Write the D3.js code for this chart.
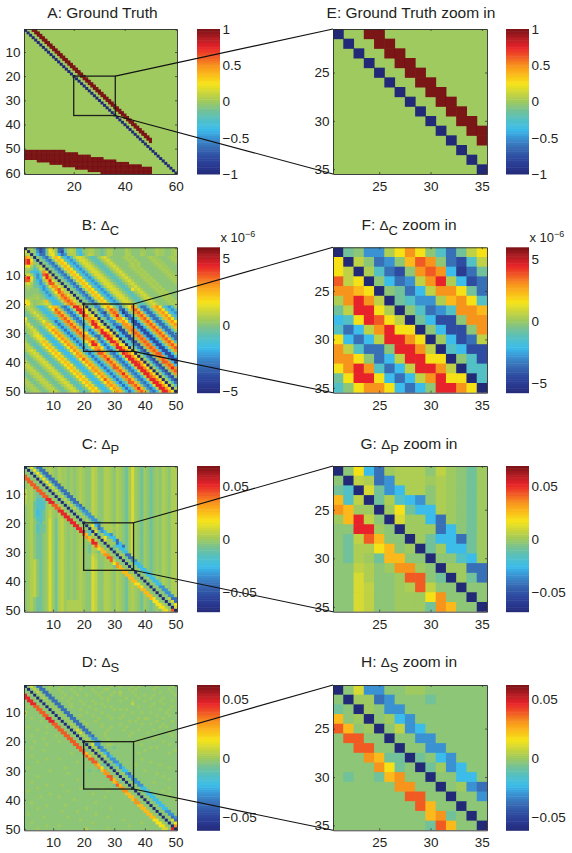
<!DOCTYPE html>
<html><head><meta charset="utf-8">
<script src="https://cdnjs.cloudflare.com/ajax/libs/d3/7.8.5/d3.min.js"></script>
<style>
html,body{margin:0;padding:0;background:#fff}
text{font-family:"Liberation Sans",Arial,sans-serif;fill:#231f20}
svg{display:block}
</style></head><body>
<svg id="c" width="572" height="853"></svg>
<script>
// colour levels (position on the colormap, -1 = bottom, +1 = top)
const levelCodes = "0123456789abcdefghij";
const levelValues = [-1,-.88,-.76,-.62,-.5,-.38,-.25,-.13,-.05,0,.04,.09,.16,.26,.38,.5,.62,.75,.88,1];
// colormap
const mapStops = [0,.06,.125,.19,.25,.31,.375,.44,.5,.56,.625,.69,.75,.81,.875,.94,1];
const mapColors = ["#232a78","#2a3a92","#2e4fa3","#396fb7","#3a92d3","#3bbcea","#52c0c6","#74c196","#9fca5f","#c9d53b","#f6e419","#fbb91a","#f7941d","#f15a24","#e8232a","#b01c22","#7a1215"];

// A: ground truth
const truthDiagonal = [1,2,3,4,5,6,7,8,9,10,11,12,13,14,15,16,17,18,19,20,21,22,23,24,25,26,27,28,29,30,31,32,33,34,35,36,37,38,39,40,41,42,43,44,45,46,47,48,49,50,51,52,53,54,55,56,57,58,59,60];
const truthBandFirstCol = [4,5,6,7,8,9,10,11,12,13,14,15,16,17,18,19,20,21,22,23,24,25,26,27,28,29,30,31,32,33,34,35,36,37,38,39,40,41,42,43,44,45,46,47,48,49,50];
const truthBandLastCol = [5,6,7,8,9,10,11,12,13,14,15,16,17,18,19,20,21,22,23,24,25,26,27,28,29,30,31,32,33,34,35,36,37,38,39,40,41,42,43,44,45,46,47,48,49,50,50];
// block: firstCol,lastCol,firstRow,lastRow
const truthBlock = [[1,5,51,54],[6,10,51,55],[11,15,51,56],[16,16,51,57],[17,20,52,57],[21,21,52,58],[22,25,53,58],[26,26,53,59],[27,30,54,59],[31,31,54,60],[32,36,55,60],[37,41,56,60],[42,46,57,60],[47,50,58,60]];

// B: Delta C, one string per row, one level code per column
const deltaC = [
"09a73238db 8337aba668 9aa8878a98 888a988899 888a99889a",
"c0984237dc 8326aba658 9aa8878aa8 888a988899 889a99889a",
"ab085337cd 95349aa757 9ba8878aa8 888aa888a9 888a99889a",
"fea087437c ed7546accb 87679bca88 889a9a8888 9a998889a9",
"ghd7087437 ced7546acc b87679bca8 8889a9a888 89a998889a",
"ghe9808743 7ced7546ac cb87679bca 88889a9a88 889a998889",
"cda7aa0874 37ced7546a ccb87679bc a8889a9a88 8889a99888",
"9a867ca087 437ced7546 accb87679b ca8889a9a8 88889a9988",
"986558fc08 7437ced754 6accb87679 bca8889a9a 888889a998",
"bca646ghb0 87437ced75 46accb8767 9bca8889a9 a888889a99",
"ghd745chf9 087437ced7 546accb876 79bca8889a 9a888889a9",
"ggc7549ehc 9087437ced 7546accb87 679bca8889 a9a888889a",
"bca7646bgg c9087437ce d7546accb8 7679bca888 9a9a888889",
"9a977547cf fca087437c ed7546accb 87679bca88 89a9a88888",
"898886458c fgca087437 ced7546acc b8767dbca8 889a9a8888",
"8888876469 dgfba08743 7ced7546ac cb87679bca 8889a9a888",
"8889987547 aegfca0874 37ced7546a ccb87679bc a8889a9a88",
"9999a88655 7bfgfca087 437ced7546 accb87679b ca8889a9a8",
"dc9899be75 57bfgfca08 7437ced754 6accb87679 bca8889a9a",
"dda89abca6 557bfgfba0 87437ced75 46accb8767 9bca8889a9",
"aba86568de e8435bhhfd 07844adfd8637bd ge6336aefd75469",
"8aba86568d ge8435bhhf d0b8348egf8326b fge6336aefd7546",
"78aca86568 fge8435bhh db0a6328fgf5137 afge6336aefd754",
"778aca8656 8fge8435bh gbd08534bfha523 5afge6336aefd75",
"d778aca865 58fge8435b ffed08735bffd73 25afge6336aefd7",
"c8778ada86 358fge8435 afhfb07644aefd6 225afge6336aefd",
"ac8778bec8 5358fge843 7bhhda086346ffe 5225afge6336aef",
"8bc8768ced 95358fge84 56dhgdb075228ff f5225afge6336ae",
"89bc8668df e95358fge8 635bfhdd085228f gf5225afge6336a",
"79acc7668d fe95358fge d535bhhfd09523b fgf5225afge6336",
"779cdc7558 dfe95358fg fb6338hhfb06522 8fgf5225afge633",
"8779cdc755 8dfe95358f ffd835bhhdd0862 28fgf5225afge63",
"a7779cec75 58dfe95358 dfhf635bhhfb066 328fgf5225afge6",
"ba7679dec7 558dfe9535 7dhhd535bfhdd06 6328fgf5225afge",
"aba7679dec 7558dfe953 68dffd5358hhfd0 a6328fgf5225afg",
"9bcb7679dec7558dfe95358fge8435bhhfd0a6328fgf5225af",
"79bcb7679ded7558dfe95358gge8435bhgfd0a6328fgg5225a",
"779bcb7679dec7558efe95358fge8435bhhfd0a6328fgf5225",
"8779bcb7679dec7558dge95358fhe8435chhfd0a6328fgf522",
"b8779bcb7679dec7558dfe95358fge8435bhhge0a6328ggf52",
"bb8779bcb7679ded7558dfe95358fge8435bhhfd0a6328fgf5",
"abb8779bcb7679dec7558dfe95358gge8435bhhfd0a6328fhf",
"8abb8779bcb7679dec7558efe95358fge8435chhfd0a6328fg",
"78abb8779bcb7679dec7558dfe95358fhe8435bhhfd0a6328f",
"878abb8779bcb7679ded7558dfe95358fge8435bhgfd0a6328",
"a878abb8779bcb7679dec7558dge95358fge8435bhhfd0a632",
"aa878abb8779bcb7679dec7558dfe95358gge8435bhhfd0a63",
"9aa878abb8779bcb7679dec7558efe95358fge8435chhfd0a6",
"89aa878abb8779bcb7679ded7558dfe95358fhe8435bhhfd0a",
"889aa878abb8779bcb7679dec7558dfe95358fge8435bhhfd0"
];

// C: Delta P
const deltaP = [
"08d73389a9 8a998989a9 88ba88aa98 a9879c9879 87898a98aa",
"808d7339a9 8a998989a9 88ba88aa98 a9879c9879 87898a98aa",
"8808d733a9 8a998989a9 88ba88aa98 a9879c9879 87898a98aa",
"g8808d7339 8a998989a9 88ba88aa98 a9879c9879 87898a98aa",
"gg8808d733 8a998989a9 88ba88aa98 a9879c9879 87898a98aa",
"8gg8808d73 3a998989a9 88ba88aa98 a9879c9879 87898a98aa",
"89gg8808d7 33998989a9 88ba88aa98 a9879c9879 87898a98aa",
"89agg8808c 73398989a9 88ba88aa98 a9879c9879 87898a98aa",
"b9a8gg8808 c7338989a9 88ba88aa98 a9879c9879 87898a98aa",
"b9a87gg880 8b733989a9 88ba88aa98 a9879c9879 87898a98aa",
"b9a877gg88 08b73389a9 88ba88aa98 a9879c9879 87898a98aa",
"a9a8667hh9 808b7339a9 88ba88aa98 a9879c9879 87898a98aa",
"a9a76668hh 8808b733a9 88ba88aa98 a9879c9879 87898a98aa",
"99a76669ag ga808b7439 88ba88aa98 a9879c9879 87898a98aa",
"89a76669a9 gga808b743 88ba88aa98 a9879c9879 87898a98aa",
"89a75679b9 8hh9808a74 48ba88aa98 a9879c9879 87898a98aa",
"89a75679b9 8ahh9808a7 44ba88aa98 a9879c9879 87898a98aa",
"89a76679b9 8a9hh9808a 744a88aa98 a9879c9879 87898a98aa",
"89a86679c9 7ab9hh9808 a74488aa98 a9879c9879 87898a98aa",
"89a87689c9 7ab98hh980 8a7448aa98 a9879c9879 87898a98aa",
"89a86779c9 7ab989hh98 08d539aaa8b9879 c987987898a98aa",
"89a86779c9 7ab9898hh9 80ba34aaa9a9879 c987987898a98aa",
"89a86779c9 7ab98989hh 760c745aa8a9879 c987987898a98aa",
"89a87789c9 7ab98989ag e6b07a6548a9879 c987987898a98aa",
"89a87789c9 7ab98989a9 fe9909d755a9879 c987987898a98aa",
"89a87789c9 7ab98989a9 9ehb80c99539879 c987987898a98aa",
"89a87789c9 7ab98989a9 88hh98099935879 c987987898a98aa",
"89a87789c9 7ab98989a9 87bge8809755379 c987987898a98aa",
"89a87789c9 7ab98989a9 87aade890795579 c987987898a98aa",
"89a87789c9 7ab98989a9 87a97ee88088659 c987987898a98aa",
"89a87789c9 7ab98989a9 88ba89ff9809933 c987987898a98aa",
"89a87789c9 7ab98989a9 88ca889gg870973 3987987898a98aa",
"89ab8789c9 7ab98989a9 88cb889agb88088 4487987898a98aa",
"89ab8789c9 7ab98989a9 88cb88999df8808 8557987898a98aa",
"89ab8789c9 7ab98989a9 88cb889997fe880 8855987898a98aa",
"89ab8789c9 7ab98989a9 88cb88aa98 aee8908855 87898a98aa",
"89ab8789c9 7ab98989a9 88cb88aa98 a9ee890885 57898a98aa",
"89ab8789c9 7ab98989a9 88cb88aa98 a98eea8088 55898a98aa",
"89ab8789c9 7ab98989a9 88cb88aa98 a987ee8808 95598a98aa",
"89ab8789c9 7ab98989a9 88cb88aa98 a9879ee880 88558a98aa",
"89ab8789c9 7ab98989a9 88cb88aa98 a9879add88 08855a98aa",
"89ab8789c9 7ab98989a9 88cb88aa98 a9879a9ed8 80884498aa",
"89ab8789c9 7ab98989a9 88cb88aa98 a9879a98ee 88088448aa",
"89ab8789c9 7ab98989a9 88cb88aa98 a9879a987e e8808844aa",
"89ab8789c9 7ab98989a9 88cb88aa98 a9879a9879 ee8808844a",
"89a87789c9 7ab98989a9 88cb88aa98 a9879a9879 8ed8808b33",
"89a87789c9 7ab9aaaaa9 88cb88aa98 a9879a9879 87dd8808c3",
"89a87789c9 7ab9aaaaa9 88cb88aa98 a9879a9879 878dda808d",
"89a87789c9 7ab9aaaaa9 88cb88aa98 a9879a9879 8789dda80c",
"89a87789c9 7ab9aaaaa9 88cb88aa98 a9879a9879 87898cd9g0"
];

// D: Delta S
const deltaS = [
"08c8338898 8898889888 8888988898 8988898988 8889888898",
"808b833898 8988898898 8898889988 8888989888 8898888988",
"8808b83388 8898889888 8889898889 8a88898888 8888988898",
"h8808a8338 8889888988 9888988898 8988889889 8898888889",
"hh8808a833 8898898888 8888898988 8889888988 8988898888",
"8hh8808983 3888988898 8898888988 8988898889 8888988898",
"88hh880898 3388898889 8889898888 88888b8888 8898898888",
"898gg88089 8338898888 8988889898 8888888988 8988888898",
"8888gg8808 9833888898 8889888889 8989888888 8888988988",
"b8888gg880 8983388888 9888898888 8888898898 8988889888",
"988888gg88 0898338898 8898888988 8898888888 8889888988",
"8898888hh8 8089833888 8888988898 8988888989 9888898888",
"88888988hh 8808983389 8889888888 8888989888 8889888898",
"888888888g g8808a8338 9888898888 8988888898 8988898888",
"8988888988 gg8808a833 8888898898 8889888888 8888989888",
"8888988888 8gg8808c83 3888888988 8898888988 8898888898",
"8888888988 88gg8808c8 3388889888 8888898888 9888888988",
"8898888888 988gg8808a 8438889888 8888988888 8889888898",
"8888889888 8888gg8808 a844888988 8888888898 8898888888",
"8889888888 89888gg880 8984488888 8988889888 8888898888",
"8888888988 888888gg88 08c448899888888 888988888888988",
"8898888888 8888888gg8 809934888788888 888888989888888",
"8888889888 88888888gg 780984488888888 888898888888889",
"8888888888 888889888g e89089548888888 889888888888988",
"8898888888 8888888888 ge8908b45888888 888888888888888",
"8888888988 8988888888 8gg880884488888 888988888888888",
"8888988888 8888888988 88gg88088448888 888888988888888",
"8888888888 8888888888 888fe7707854888 898888888988888",
"8988888888 8889888888 8888fd780794588 888888888888988",
"8888888898 8888888888 87887ef88088558 888898888888888",
"8888888888 8888988888 888888ff8808943 888888889888888",
"8888988888 8888888888 8888888gg880884 488888888898888",
"8888888888 8888888988 88888888ge88088 448888888888988",
"8898888888 8888888888 888888888ef7808 844888898888888",
"8888888988 8898888888 8888888887ge880 884488888888888",
"8888988888 8888888898 8888898888 8ff8808855 8888888988",
"8988888888 8888988888 8888888988 88ff880885 5888898888",
"8888888898 8888888888 8898888888 888ee88088 5588888988",
"8888898888 8988888888 8888889888 8888ee8808 8558888888",
"8888888888 8888889888 8888888888 88888ef880 8855888889",
"8898888888 8888888888 8889888888 888888ff88 0885588888",
"8888888988 8889888888 8888888888 8888888ee8 8088558888",
"8888988888 8888888888 9888888898 88888888ee 8808855888",
"8888888888 8898888988 8888888888 888888888e e880884488",
"8988888888 8888888888 8889888888 8888888888 ee88088448",
"8888889888 8888988888 8888888988 8888888888 8ee8808934",
"8888888888 8888888898 8888888888 8898888888 88dd8808c3",
"8898888888 8888888888 8898888888 8888888898 888dd9808d",
"8888888988 8988888888 8888888888 8888988888 8888dd980f",
"8888988888 8888888888 a888888988 8888888888 88888cc8h0"
];

// tick labels and colour-bar ranges
const overviewTicks60 = [20,40,60];
const overviewRowTicks60 = [10,20,30,40,50,60];
const overviewTicks50 = [10,20,30,40,50];
const zoomTicks = [25,30,35];
const barTicksA = [-1,-.5,0,.5,1];
const barTicksC = [-5,0,5];
const barTicksP = [-.05,0,.05];
const rangeA = [-1,1];
const rangeBarB = [-5.1,5.85];
const rangeBarF = [-5.76,5.92];
const rangeP = [-.0682,.0686];
const rangeS = [-.0612,.0623];
const zoomWindow = [20,36.3];

const svg = d3.select("#c");
const defs = svg.append("defs");
[["softWide",0.42],["softNarrow",0.6]].forEach(([id,dev])=>{
  defs.append("filter").attr("id",id)
    .attr("x","-5%").attr("y","-5%").attr("width","110%").attr("height","110%")
    .append("feGaussianBlur").attr("stdDeviation",dev);
});

const L0 = 24, L1 = 177, Z0 = 333, Z1 = 487, BL0 = 197, BL1 = 220, BR0 = 506, BR1 = 529;
const INK = "#2a2a2a";
const TICK_FONT = 13.5;

function toCells(rows){
  const cells = [];
  rows.forEach((r,i)=>{
    r.replace(/ /g,"").split("").forEach((ch,j)=>{
      cells.push({row:i+1,col:j+1,pos:levelValues[levelCodes.indexOf(ch)]});
    });
  });
  return cells;
}
function truthCells(){
  const out = [];
  truthDiagonal.forEach(d=>out.push({row:d,col:d,pos:-1}));
  truthBandFirstCol.forEach((f,i)=>{
    for(let c=f;c<=truthBandLastCol[i];c++) out.push({row:i+1,col:c,pos:1});
  });
  truthBlock.forEach(([c0,c1,r0,r1])=>{
    for(let c=c0;c<=c1;c++) for(let r=r0;r<=r1;r++) out.push({row:r,col:c,pos:1});
  });
  return out;
}
function colorFor(range){
  const [lo,hi] = range;
  return d3.scaleLinear().domain(mapStops.map(t=>lo+t*(hi-lo))).range(mapColors).clamp(true);
}
let clipId = 0;
function heatPanel(o){
  const g = svg.append("g");
  const x = d3.scaleLinear().domain(o.domain).range([o.x0,o.x1]);
  const y = d3.scaleLinear().domain(o.domain).range([o.y0,o.y1]);
  const color = colorFor(o.range);
  const toValue = d3.scaleLinear().domain([-1,1]).range(o.range);
  const id = "clip"+(clipId++);
  defs.append("clipPath").attr("id",id).append("rect")
    .attr("x",o.x0).attr("y",o.y0).attr("width",o.x1-o.x0).attr("height",o.y1-o.y0);
  const clip = g.append("g").attr("clip-path",`url(#${id})`);
  const art = clip.append("g").attr("filter",`url(#${o.blur})`);
  art.append("rect").attr("x",o.x0-3).attr("y",o.y0-3).attr("width",o.x1-o.x0+6).attr("height",o.y1-o.y0+6)
    .attr("fill",color(toValue(o.base)));
  const cells = o.cells.filter(c=>c.col>o.domain[0]&&c.col<o.domain[1]&&c.row>o.domain[0]&&c.row<o.domain[1]);
  art.selectAll("rect.cell").data(cells).join("rect").attr("class","cell")
    .attr("x",c=>x(c.col-.5)).attr("y",c=>y(c.row-.5))
    .attr("width",c=>x(c.col+.5)-x(c.col-.5)+.5)
    .attr("height",c=>y(c.row+.5)-y(c.row-.5)+.5)
    .attr("fill",c=>color(toValue(c.pos)));
  const style = s=>{
    s.selectAll("path").attr("stroke",INK).attr("stroke-width",.9);
    s.selectAll("line").attr("stroke",INK).attr("stroke-width",.7);
    s.selectAll("text").attr("font-size",TICK_FONT).attr("font-family",'"Liberation Sans",Arial,sans-serif').attr("fill","#231f20");
  };
  g.append("g").attr("transform",`translate(0,${o.y1})`)
    .call(d3.axisBottom(x).tickValues(o.xTicks).tickSizeInner(-2).tickSizeOuter(0).tickPadding(7.6)).call(style);
  g.append("g").attr("transform",`translate(${o.x0},0)`)
    .call(d3.axisLeft(y).tickValues(o.yTicks).tickSizeInner(-2).tickSizeOuter(0).tickPadding(3.5)).call(style);
  g.append("g").attr("transform",`translate(0,${o.y0})`)
    .call(d3.axisTop(x).tickValues(o.xTicks).tickFormat("").tickSizeInner(-2).tickSizeOuter(0)).call(style);
  g.append("g").attr("transform",`translate(${o.x1},0)`)
    .call(d3.axisRight(y).tickValues(o.yTicks).tickFormat("").tickSizeInner(-2).tickSizeOuter(0)).call(style);
  return {x,y};
}
function colorBar(o){
  const g = svg.append("g");
  const y = d3.scaleLinear().domain(o.range).range([o.y1,o.y0]);
  const color = colorFor(o.range);
  const steps = d3.range(64).map(i=>o.range[0]+(i+.5)/64*(o.range[1]-o.range[0]));
  const h = (o.y1-o.y0)/64;
  g.append("g").selectAll("rect").data(steps).join("rect")
    .attr("x",o.x0).attr("width",o.x1-o.x0)
    .attr("y",v=>y(v)-h/2).attr("height",h+.5).attr("fill",v=>color(v));
  const ax = g.append("g").attr("transform",`translate(${o.x1},0)`)
    .call(d3.axisRight(y).tickValues(o.ticks).tickFormat(v=>(v<0?"\u2212":"")+String(Math.abs(v))).tickSizeInner(0).tickSizeOuter(0).tickPadding(2.5));
  ax.select("path").remove();
  ax.selectAll("line").remove();
  ax.selectAll("text").attr("font-size",TICK_FONT).attr("font-family",'"Liberation Sans",Arial,sans-serif').attr("fill","#231f20");
  if(o.scaleNote){
    const t = g.append("text").attr("x",o.x0+23.5).attr("y",o.y0-5.5).attr("font-size",13);
    t.append("tspan").text("x 10");
    t.append("tspan").attr("dy",-5).attr("font-size",9).text("\u22126");
  }
}
function title(cx,base,letter,sub,tail){
  const t = svg.append("text").attr("x",cx).attr("y",base).attr("text-anchor","middle").attr("font-size",15.5);
  t.append("tspan").text(letter+": ");
  if(sub){
    t.append("tspan").text("\u0394").attr("font-size",13.5);
    t.append("tspan").attr("dy",4.5).attr("font-size",13).text(sub);
    if(tail) t.append("tspan").attr("dy",-4.5).text(" "+tail);
  } else if(tail){
    t.append("tspan").text(tail);
  }
}

const rowsDef = [
  {y0:29,y1:174,cells:truthCells(),base:0,domain:[.5,60.5],xT:overviewTicks60,yT:overviewRowTicks60,rangeL:rangeA,rangeR:rangeA,ticks:barTicksA,note:false,
   lt:"A",rt:"E",titleY:18,tail:"Ground Truth",rtail:"Ground Truth zoom in",sub:null,lx:102.5,rx:411},
  {y0:247.3,y1:392.7,cells:toCells(deltaC),base:0,domain:[.5,50.5],xT:overviewTicks50,yT:overviewTicks50,rangeL:rangeBarB,rangeR:rangeBarF,ticks:barTicksC,note:true,
   lt:"B",rt:"F",titleY:230,tail:null,rtail:"zoom in",sub:"C",lx:100.5,rx:409},
  {y0:466,y1:611.7,cells:toCells(deltaP),base:0,domain:[.5,50.5],xT:overviewTicks50,yT:overviewTicks50,rangeL:rangeP,rangeR:rangeP,ticks:barTicksP,note:false,
   lt:"C",rt:"G",titleY:449,tail:null,rtail:"zoom in",sub:"P",lx:100.5,rx:409},
  {y0:685,y1:830.3,cells:toCells(deltaS),base:0,domain:[.5,50.5],xT:overviewTicks50,yT:overviewTicks50,rangeL:rangeS,rangeR:rangeS,ticks:barTicksP,note:false,
   lt:"D",rt:"H",titleY:667,tail:null,rtail:"zoom in",sub:"S",lx:100.5,rx:409}
];
const overlays = [];
rowsDef.forEach(r=>{
  const left = heatPanel({x0:L0,x1:L1,y0:r.y0,y1:r.y1,domain:r.domain,cells:r.cells,base:r.base,range:r.rangeL,xTicks:r.xT,yTicks:r.yT,blur:"softWide"});
  const right = heatPanel({x0:Z0,x1:Z1,y0:r.y0,y1:r.y1,domain:[20.5,35.5],cells:r.cells,base:r.base,range:r.rangeR,xTicks:zoomTicks,yTicks:zoomTicks,blur:"softNarrow"});
  colorBar({x0:BL0,x1:BL1,y0:r.y0,y1:r.y1,range:r.rangeL,ticks:r.ticks,scaleNote:r.note});
  colorBar({x0:BR0,x1:BR1,y0:r.y0,y1:r.y1,range:r.rangeR,ticks:r.ticks,scaleNote:r.note});
  title(r.lx,r.titleY,r.lt,r.sub,r.tail);
  title(r.rx,r.titleY,r.rt,r.sub,r.rtail);
  overlays.push({left,right});
});
overlays.forEach(({left,right})=>{
  const [a,b] = zoomWindow;
  const g = svg.append("g");
  g.append("rect").attr("x",left.x(a)).attr("y",left.y(a)).attr("width",left.x(b)-left.x(a)).attr("height",left.y(b)-left.y(a))
    .attr("fill","none").attr("stroke","#1c1f1a").attr("stroke-width",1.3);
  g.append("line").attr("x1",left.x(b)).attr("y1",left.y(a)).attr("x2",right.x(20.5)).attr("y2",right.y(20.5))
    .attr("stroke","#111").attr("stroke-width",1.1);
  g.append("line").attr("x1",left.x(b)).attr("y1",left.y(b)).attr("x2",right.x(20.5)).attr("y2",right.y(35.5))
    .attr("stroke","#111").attr("stroke-width",1.1);
});
</script>
</body></html>
